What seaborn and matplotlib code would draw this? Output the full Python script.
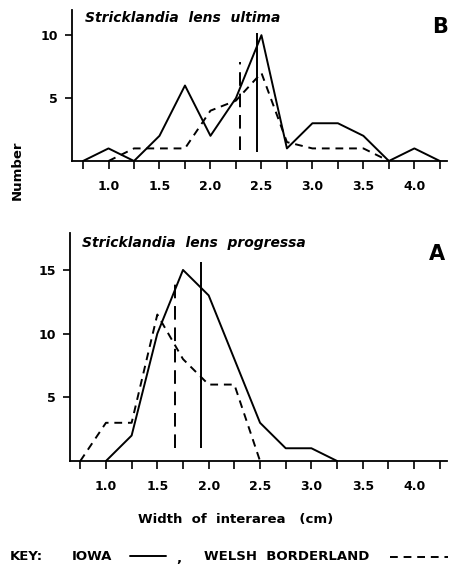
import numpy as np
import matplotlib
matplotlib.use("Agg")
import matplotlib.pyplot as plt
import seaborn as sns

sns.set_style("white")
plt.rcParams["font.family"] = ["DejaVu Sans"]
plt.rcParams["text.color"] = "black"

# ---- data ----
width_b = [0.75, 1.0, 1.25, 1.5, 1.75, 2.0, 2.25, 2.5, 2.75, 3.0, 3.25, 3.5, 3.75, 4.0, 4.25]
iowa_b = [0, 1, 0, 2, 6, 2, 5, 10, 1, 3, 3, 2, 0, 1, 0]

welsh_b_x = [1.0, 1.25, 1.5, 1.75, 2.0, 2.25, 2.5, 2.75, 3.0, 3.25, 3.5, 3.75]
welsh_b = [0, 1, 1, 1, 4, 4.8, 7, 1.5, 1, 1, 1, 0]

iowa_a_x = [1.0, 1.25, 1.5, 1.75, 2.0, 2.25, 2.5, 2.75, 3.0, 3.25]
iowa_a = [0, 2, 10, 15, 13, 8, 3, 1, 1, 0]

welsh_a_x = [0.75, 1.0, 1.25, 1.5, 1.75, 2.0, 2.25, 2.5]
welsh_a = [0, 3, 3, 11.5, 8, 6, 6, 0]

# mean lines: (x, y bottom, y top)
mean_b = {"iowa": (2.46, 0.7, 10.2), "welsh": (2.29, 0.9, 7.9)}
mean_a = {"iowa": (1.93, 1.0, 15.6), "welsh": (1.67, 1.0, 14.0)}

major_x = [1.0, 1.5, 2.0, 2.5, 3.0, 3.5, 4.0]
minor_x = [0.75, 1.25, 1.75, 2.25, 2.75, 3.25, 3.75, 4.25]

W, H = 449, 572
fig = plt.figure(figsize=(W / 100, H / 100), dpi=100)
axB = fig.add_axes([72 / W, 1 - 161 / H, (447 - 72) / W, (161 - 10) / H])
axA = fig.add_axes([70 / W, 1 - 461 / H, (447 - 70) / W, (461 - 233) / H])

LW = 1.4
DASH = (0, (4, 3))
VDASH = (0, (7, 4))

def style_axis(ax, xlim, ylim, yticks):
    ax.set_xlim(*xlim)
    ax.set_ylim(*ylim)
    ax.set_xticks(major_x)
    ax.set_xticklabels([f"{v:.1f}" for v in major_x])
    ax.set_xticks(minor_x, minor=True)
    ax.set_yticks(yticks)
    ax.set_yticklabels([str(v) for v in yticks])
    ax.tick_params(axis="x", which="both", direction="out", length=6, width=1.2,
                   pad=8, labelsize=9, colors="black", bottom=True)
    ax.tick_params(axis="y", direction="out", length=5, width=1.2, pad=5,
                   labelsize=9, colors="black", left=True)
    for lab in ax.get_xticklabels() + ax.get_yticklabels():
        lab.set_fontweight("bold")
    for s in ["top", "right"]:
        ax.spines[s].set_visible(False)
    for s in ["left", "bottom"]:
        ax.spines[s].set_linewidth(1.3)
        ax.spines[s].set_color("black")
    ax.set_xlabel("")
    ax.set_ylabel("")
    ax.patch.set_alpha(0)

# panel B
sns.lineplot(x=width_b, y=iowa_b, ax=axB, color="black", linewidth=LW)
sns.lineplot(x=welsh_b_x, y=welsh_b, ax=axB, color="black", linewidth=LW, linestyle=DASH)
x, y0, y1 = mean_b["iowa"]
axB.vlines(x, y0, y1, color="black", linewidth=LW)
x, y0, y1 = mean_b["welsh"]
axB.vlines(x, y0, y1, color="black", linewidth=LW, linestyle=VDASH)
style_axis(axB, (0.642, 4.32), (0, 12), [5, 10])

# panel A
sns.lineplot(x=iowa_a_x, y=iowa_a, ax=axA, color="black", linewidth=LW)
sns.lineplot(x=welsh_a_x, y=welsh_a, ax=axA, color="black", linewidth=LW, linestyle=DASH)
x, y0, y1 = mean_a["iowa"]
axA.vlines(x, y0, y1, color="black", linewidth=LW)
x, y0, y1 = mean_a["welsh"]
axA.vlines(x, y0, y1, color="black", linewidth=LW, linestyle=VDASH)
style_axis(axA, (0.65, 4.32), (0, 17.9), [5, 10, 15])

# texts
fig.text(85 / W, 1 - 18 / H, "Stricklandia  lens  ultima", style="italic",
         fontweight="bold", fontsize=10, ha="left", va="center")
fig.text(82 / W, 1 - 243 / H, "Stricklandia  lens  progressa", style="italic",
         fontweight="bold", fontsize=10, ha="left", va="center")
fig.text(440 / W, 1 - 27 / H, "B", fontsize=15, fontweight="bold", ha="center", va="center")
fig.text(437 / W, 1 - 254 / H, "A", fontsize=15, fontweight="bold", ha="center", va="center")
fig.text(17 / W, 1 - 170 / H, "Number", rotation=90, fontsize=9.5, fontweight="bold",
         ha="center", va="center")
fig.text(236 / W, 1 - 520 / H, "Width  of  interarea   (cm)", fontsize=9.5,
         fontweight="bold", ha="center", va="center")

fig.text(10 / W, 1 - 556 / H, "KEY:", fontsize=9.5, fontweight="bold", ha="left", va="center")
fig.text(72 / W, 1 - 556 / H, "IOWA", fontsize=9.5, fontweight="bold", ha="left", va="center")
fig.text(176 / W, 1 - 558 / H, ",", fontsize=9.5, fontweight="bold", ha="left", va="center")
fig.text(204 / W, 1 - 556 / H, "WELSH  BORDERLAND", fontsize=9.5, fontweight="bold",
         ha="left", va="center")
fig.add_artist(matplotlib.lines.Line2D([130 / W, 166 / W], [1 - 556 / H, 1 - 556 / H],
                                       color="black", linewidth=LW))
fig.add_artist(matplotlib.lines.Line2D([390 / W, 448 / W], [1 - 557 / H, 1 - 557 / H],
                                       color="black", linewidth=LW, linestyle=DASH))

fig.savefig("out.png", dpi=100)
